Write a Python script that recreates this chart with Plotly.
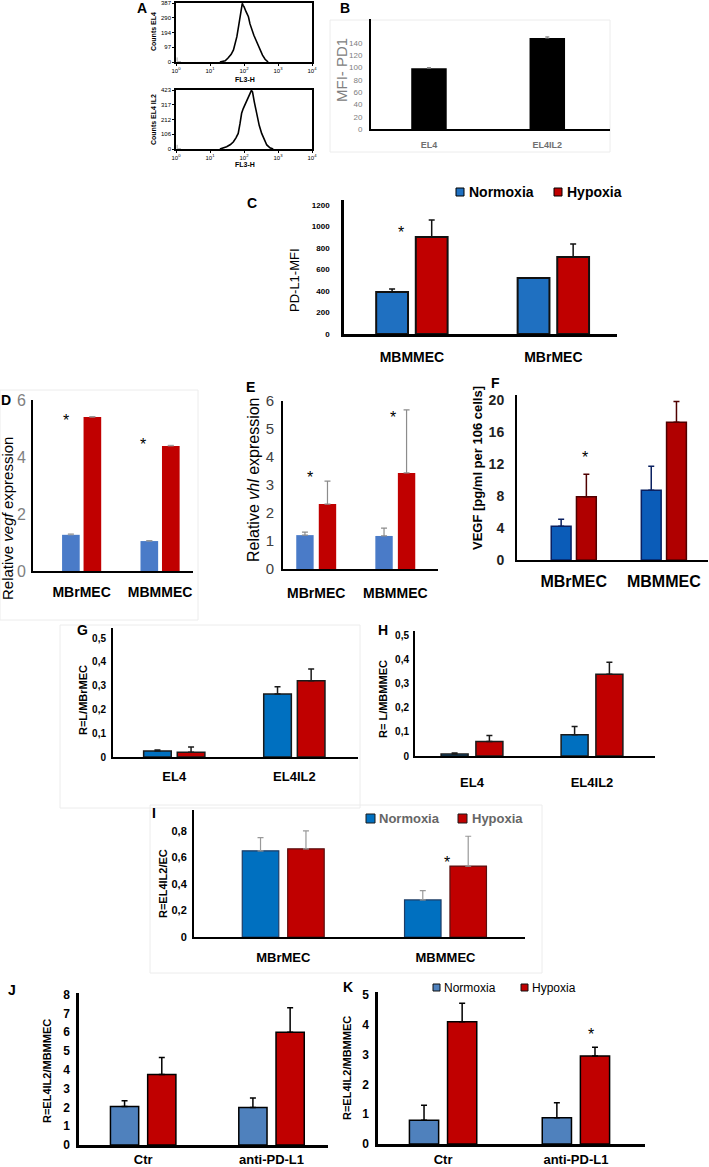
import plotly.graph_objects as go

W, H = 709, 1167
FONT = "Liberation Sans, Arial, sans-serif"

# ---------------- data ----------------
# A: flow cytometry histograms (FL3-H vs counts)
hist_el4_fl3 = [19.5, 28, 33.9, 42, 49, 55, 61.7, 70, 75.9, 82, 89.1, 95, 100, 115, 135, 150, 170, 195, 224, 260, 295, 350, 417, 513]
hist_el4_counts = [0, 8, 26, 50, 79, 120, 166, 240, 297, 345, 385, 370, 363, 330, 297, 250, 210, 175, 144, 110, 79, 45, 18, 0]
hist_el4il2_fl3 = [19.5, 25, 30.9, 40, 49, 58, 67.6, 76, 85.1, 95, 107, 125, 151, 165, 178, 200, 245, 280, 331, 400, 468, 580, 724]
hist_el4il2_counts = [0, 6, 16, 32, 52, 80, 112, 180, 256, 290, 315, 350, 399, 420, 410, 340, 232, 170, 112, 60, 29, 8, 0]
hist_bg_fl3 = [1.08, 1.08, 1.4]
hist_bg_counts = [30, 2, 2]
a_xticks = [1, 10, 100, 1000, 10000]
a_xtick_text = ["10<sup>0</sup>", "10<sup>1</sup>", "10<sup>2</sup>", "10<sup>3</sup>", "10<sup>4</sup>"]
a_el4_yticks = [0, 97, 194, 290, 387]
a_el4il2_yticks = [0, 106, 212, 317, 423]

# B: MFI PD1
b_cats = ["EL4", "EL4IL2"]
b_mfi = [99, 148]
b_err = [1, 2]
b_yticks = [0, 20, 40, 60, 80, 100, 120, 140]

# C: PD-L1 MFI
c_cats = ["MBMMEC", "MBrMEC"]
c_norm = [391, 521]
c_norm_err = [27, 0]
c_hyp = [902, 716]
c_hyp_err = [158, 121]
c_yticks = [0, 200, 400, 600, 800, 1000, 1200]

# D: relative vegf expression
d_cats = ["MBrMEC", "MBMMEC"]
d_norm = [1.27, 1.05]
d_norm_err = [0.03, 0.02]
d_hyp = [5.4, 4.39]
d_hyp_err = [0.02, 0.02]
d_yticks = [0, 2, 4, 6]

# E: relative vhl expression
e_cats = ["MBrMEC", "MBMMEC"]
e_norm = [1.21, 1.18]
e_norm_err = [0.11, 0.28]
e_hyp = [2.32, 3.43]
e_hyp_err = [0.82, 2.25]
e_yticks = [0, 1, 2, 3, 4, 5, 6]

# F: VEGF secretion
f_cats = ["MBrMEC", "MBMMEC"]
f_norm = [4.2, 8.7]
f_norm_err = [0.9, 3.0]
f_hyp = [7.9, 17.2]
f_hyp_err = [2.8, 2.6]
f_yticks = [0, 4, 8, 12, 16, 20]

# G: R=L/MBrMEC
g_cats = ["EL4", "EL4IL2"]
g_norm = [0.025, 0.265]
g_norm_err = [0.004, 0.03]
g_hyp = [0.02, 0.32]
g_hyp_err = [0.022, 0.05]

# H: R=L/MBMMEC
h_cats = ["EL4", "EL4IL2"]
h_norm = [0.008, 0.088]
h_norm_err = [0.004, 0.035]
h_hyp = [0.06, 0.34]
h_hyp_err = [0.025, 0.05]
gh_yticks = [0, 0.1, 0.2, 0.3, 0.4, 0.5]
gh_ytick_text = ["0", "0,1", "0,2", "0,3", "0,4", "0,5"]

# I: R=EL4IL2/EC
i_cats = ["MBrMEC", "MBMMEC"]
i_norm = [0.65, 0.28]
i_norm_err = [0.10, 0.07]
i_hyp = [0.665, 0.535]
i_hyp_err = [0.135, 0.225]
i_yticks = [0, 0.2, 0.4, 0.6, 0.8]
i_ytick_text = ["0", "0,2", "0,4", "0,6", "0,8"]

# J / K: R=EL4IL2/MBMMEC
jk_cats = ["Ctr", "anti-PD-L1"]
j_norm = [2.05, 2.0]
j_norm_err = [0.3, 0.5]
j_hyp = [3.75, 6.0]
j_hyp_err = [0.9, 1.3]
j_yticks = [0, 1, 2, 3, 4, 5, 6, 7, 8]
k_norm = [0.8, 0.88]
k_norm_err = [0.5, 0.5]
k_hyp = [4.1, 2.95]
k_hyp_err = [0.62, 0.3]
k_yticks = [0, 1, 2, 3, 4, 5]

# ---------------- helpers ----------------
fig = go.Figure()
layout = dict(width=W, height=H, margin=dict(l=0, r=0, t=0, b=0),
              paper_bgcolor="white", plot_bgcolor="white", showlegend=False,
              barmode="overlay", font=dict(family=FONT, color="black"))
annotations = []
shapes = []


def dx(a, b):
    return [a / W, b / W]


def dy(top, bottom):
    return [1 - bottom / H, 1 - top / H]


def axn(n, k):
    return f"{k}axis{'' if n == 1 else n}"


def rf(n, k):
    return f"{k}{'' if n == 1 else n}"


def text(x, y, s, size, bold=False, color="black", angle=0, xanchor="center", yanchor="middle"):
    if bold:
        s = f"<b>{s}</b>"
    annotations.append(dict(x=x / W, y=1 - y / H, xref="paper", yref="paper", text=s,
                            showarrow=False, textangle=angle, xanchor=xanchor, yanchor=yanchor,
                            font=dict(size=size, color=color, family=FONT)))


def rect(x0, y0, x1, y1, fill, line="black", lw=1, layer="above"):
    shapes.append(dict(type="rect", xref="paper", yref="paper", x0=x0 / W, x1=x1 / W,
                       y0=1 - y1 / H, y1=1 - y0 / H, fillcolor=fill, layer=layer,
                       line=dict(color=line, width=lw)))


def star(n, x, y, size=16):
    annotations.append(dict(x=x, y=y, xref=rf(n, "x"), yref=rf(n, "y"), text="*", showarrow=False,
                            yshift=-5, font=dict(size=size, color="black", family=FONT)))


# faint panel frames
for box in [(330, 20, 610, 152), (0, 390, 198, 620), (60, 625, 360, 808), (150, 805, 542, 973)]:
    rect(*box, "rgba(0,0,0,0)", "#ececec", 1, "below")

# ---------------- A: histograms ----------------
def hist_panel(n, fl3, counts, yticks, top, bottom):
    fig.add_trace(go.Scatter(x=fl3, y=counts, mode="lines", line=dict(color="black", width=1.6),
                             xaxis=rf(n, "x"), yaxis=rf(n, "y")))
    fig.add_trace(go.Scatter(x=hist_bg_fl3, y=hist_bg_counts, mode="lines",
                             line=dict(color="#aaaaaa", width=1), xaxis=rf(n, "x"), yaxis=rf(n, "y")))
    layout[axn(n, "x")] = dict(domain=dx(176, 312), anchor=rf(n, "y"), type="log", range=[0, 4],
                               showline=True, mirror=True, linecolor="black", linewidth=1.5,
                               showgrid=False, zeroline=False, tickvals=a_xticks, ticktext=a_xtick_text,
                               tickfont=dict(size=6, family=FONT), ticks="outside", ticklen=2,
                               tickcolor="black", automargin=False)
    layout[axn(n, "y")] = dict(domain=dy(top, bottom), anchor=rf(n, "x"), range=[0, yticks[-1]],
                               showline=True, mirror=True, linecolor="black", linewidth=1.5,
                               showgrid=False, zeroline=False, tickvals=yticks,
                               tickfont=dict(size=6, family=FONT), ticks="outside", ticklen=2,
                               tickcolor="black", automargin=False)


hist_panel(1, hist_el4_fl3, hist_el4_counts, a_el4_yticks, 3, 62)
hist_panel(2, hist_el4il2_fl3, hist_el4il2_counts, a_el4il2_yticks, 90, 149)
text(153, 32, "Counts EL4", 7, bold=True, angle=-90)
text(153, 120, "Counts EL4 IL2", 7, bold=True, angle=-90)
text(245, 79, "FL3-H", 7, bold=True)
text(245, 165, "FL3-H", 7, bold=True)
text(142, 8, "A", 14, bold=True)


# ---------------- bar panels ----------------
def bar_axes(n, xpx, top, base, ymax, xr, yticks, ytext, ytickfont, ystand, catfont, xstand, lw=2):
    layout[axn(n, "x")] = dict(domain=dx(*xpx), anchor=rf(n, "y"), type="category", range=xr,
                               showline=True, linecolor="black", linewidth=lw, showgrid=False,
                               zeroline=False, ticks="", tickfont=catfont, ticklabelstandoff=xstand,
                               automargin=False, fixedrange=True)
    layout[axn(n, "y")] = dict(domain=dy(top, base), anchor=rf(n, "x"), range=[0, ymax],
                               showline=True, linecolor="black", linewidth=lw, showgrid=False,
                               zeroline=False, ticks="", tickvals=yticks, ticktext=ytext,
                               tickfont=ytickfont, ticklabelstandoff=ystand, automargin=False,
                               fixedrange=True)


def bars(n, cats, vals, errs, w, offset, fill, line, lw, ecol, ew=1.5):
    fig.add_trace(go.Bar(x=cats, y=vals, width=w, offset=offset, xaxis=rf(n, "x"), yaxis=rf(n, "y"),
                         marker=dict(color=fill, line=dict(color=line, width=lw)),
                         error_y=dict(type="data", array=errs, arrayminus=[0] * len(errs),
                                      symmetric=False, color=ecol, thickness=ew, width=3)))


def pair(n, cats, nv, ne, hv, he, w, d, nfill, hfill, nline, hline, lw, necol, hecol, ew=1.5):
    bars(n, cats, nv, ne, w, -d / 2 - w / 2, nfill, nline, lw, necol, ew)
    bars(n, cats, hv, he, w, d / 2 - w / 2, hfill, hline, lw, hecol, ew)


def f(size, bold=True, color="black"):
    return dict(size=size, color=color, family=FONT, weight="bold" if bold else "normal")


# B
bar_axes(3, (371, 610), 19, 129, 179, [-0.49, 1.53], b_yticks, [str(v) for v in b_yticks],
         f(8, False, "#808080"), 5, f(9, True, "#707070"), 6, lw=2)
fig.add_trace(go.Bar(x=b_cats, y=b_mfi, width=0.3, offset=-0.15, xaxis="x3", yaxis="y3",
                     marker=dict(color="black", line=dict(width=0)),
                     error_y=dict(type="data", array=b_err, arrayminus=[0, 0], symmetric=False,
                                  color="#888888", thickness=1, width=2)))
text(342, 70, "MFI- PD1", 15, color="#808080", angle=-90)
text(345, 8, "B", 14, bold=True)

# C
bar_axes(4, (344, 617), 200, 334, 1246, [-0.48, 1.45], c_yticks, [str(v) for v in c_yticks],
         f(8), 10, f(14), 8, lw=2.5)
pair(4, c_cats, c_norm, c_norm_err, c_hyp, c_hyp_err, 0.225, 0.28, "#1F70C1", "#C00000",
     "#111111", "#111111", 2, "#111111", "#111111")
star(4, -0.08, 986)
text(295, 280, "PD-L1-MFI", 13, angle=-90)
text(252, 203, "C", 14, bold=True)
rect(456, 188, 464, 196, "#1F70C1")
text(467, 192, "Normoxia", 14, bold=True, xanchor="left")
rect(554, 188, 562, 196, "#C00000")
text(565, 192, "Hypoxia", 14, bold=True, xanchor="left")

# D
bar_axes(5, (33, 193), 400, 571, 6.0, [-0.62, 1.42], d_yticks, [str(v) for v in d_yticks],
         f(16, False, "#7F7F7F"), 2, f(14), 7, lw=2)
pair(5, d_cats, d_norm, d_norm_err, d_hyp, d_hyp_err, 0.225, 0.274, "#4A7BC8", "#C00000",
     "#4A7BC8", "#C00000", 0, "#999999", "#999999", 1)
star(5, -0.2, 5.45)
star(5, 0.78, 4.6)
text(7, 519, "Relative <i>vegf</i> expression", 15, angle=-90)
text(6, 400, "D", 14, bold=True)

# E
bar_axes(6, (283, 438), 401, 569, 6.0, [-0.42, 1.54], e_yticks, [str(v) for v in e_yticks],
         f(15, False, "#404040"), 4, f(14), 10, lw=2)
pair(6, e_cats, e_norm, e_norm_err, e_hyp, e_hyp_err, 0.22, 0.285, "#4A7BC8", "#C00000",
     "#4A7BC8", "#C00000", 0, "#8c8c8c", "#8c8c8c", 1.2)
star(6, -0.08, 3.46)
star(6, 0.97, 5.6)
text(253, 480, "Relative <i>vhl</i> expression", 16, angle=-90)
text(250, 387, "E", 14, bold=True)

# F
bar_axes(7, (517, 708), 395, 560, 20.6, [-0.63, 1.49], f_yticks, [str(v) for v in f_yticks],
         f(14, True, "#222222"), 8, f(16), 6, lw=2)
pair(7, f_cats, f_norm, f_norm_err, f_hyp, f_hyp_err, 0.22, 0.28, "#0B5CB8", "#B00000",
     "#0A2060", "#500000", 1.5, "#0A2060", "#500000")
star(7, 0.13, 13.4)
text(478, 468, "VEGF [pg/ml per 106 cells]", 13, bold=True, angle=-90)
text(495, 383, "F", 14, bold=True)

# G
bar_axes(8, (113, 358), 628, 757, 0.542, [-0.51, 1.53], gh_yticks, gh_ytick_text,
         f(10), 3, f(13), 6, lw=2)
pair(8, g_cats, g_norm, g_norm_err, g_hyp, g_hyp_err, 0.23, 0.28, "#0070C0", "#C00000",
     "#1a1a1a", "#1a1a1a", 1.5, "#1a1a1a", "#1a1a1a")
text(83, 700, "R=L/MBrMEC", 11, bold=True, angle=-90)
text(82, 630, "G", 14, bold=True)

# H
bar_axes(9, (415, 655), 631, 756, 0.52, [-0.475, 1.525], gh_yticks, gh_ytick_text,
         f(10), 2, f(13), 13, lw=2)
pair(9, h_cats, h_norm, h_norm_err, h_hyp, h_hyp_err, 0.225, 0.29, "#0070C0", "#C00000",
     "#1a1a1a", "#1a1a1a", 1.5, "#1a1a1a", "#1a1a1a")
text(383, 699, "R= L/MBMMEC", 11, bold=True, angle=-90)
text(383, 630, "H", 14, bold=True)

# I
bar_axes(10, (194, 525), 810, 937, 0.958, [-0.55, 1.49], i_yticks, i_ytick_text,
         f(11), 3, f(13), 7, lw=2)
pair(10, i_cats, i_norm, i_norm_err, i_hyp, i_hyp_err, 0.225, 0.28, "#0070C0", "#C00000",
     "#1d3c66", "#5a1010", 1.2, "#999999", "#999999", 1.2)
star(10, 1.01, 0.60)
text(163, 884, "R=EL4IL2/EC", 11, bold=True, angle=-90)
text(154, 813, "I", 14, bold=True)
rect(366, 814, 375, 823, "#0070C0", "#1a1a1a", 1)
text(377, 818, "Normoxia", 13, bold=True, color="#666666", xanchor="left")
rect(458, 814, 467, 823, "#C00000", "#1a1a1a", 1)
text(470, 818, "Hypoxia", 13, bold=True, color="#666666", xanchor="left")

# J
bar_axes(11, (79, 328), 993, 1145, 8.08, [-0.5, 1.44], j_yticks, [str(v) for v in j_yticks],
         f(12), 4, f(13), 1, lw=2.5)
pair(11, jk_cats, j_norm, j_norm_err, j_hyp, j_hyp_err, 0.22, 0.29, "#4F81BD", "#C00000",
     "#000000", "#000000", 1.5, "#000000", "#000000")
text(47, 1071, "R=EL4IL2/MBMMEC", 11, bold=True, angle=-90)
text(12, 990, "J", 14, bold=True)

# K
bar_axes(12, (378, 645), 992, 1144, 5.1, [-0.49, 1.52], k_yticks, [str(v) for v in k_yticks],
         f(12), 4, f(13), 2, lw=2.5)
pair(12, jk_cats, k_norm, k_norm_err, k_hyp, k_hyp_err, 0.22, 0.287, "#4F81BD", "#C00000",
     "#000000", "#000000", 1.5, "#000000", "#000000")
star(12, 1.11, 3.83)
text(347, 1068, "R=EL4IL2/MBMMEC", 11, bold=True, angle=-90)
text(348, 987, "K", 14, bold=True)
rect(433, 984, 440, 991, "#4F81BD", "#111111", 1)
text(442, 988, "Normoxia", 12, xanchor="left")
rect(521, 984, 528, 991, "#C00000", "#111111", 1)
text(530, 988, "Hypoxia", 12, xanchor="left")

layout["annotations"] = annotations
layout["shapes"] = shapes
fig.update_layout(**layout)
fig.write_html("out.html", config={"displayModeBar": False},
               post_script="document.body.style.margin='0px';")
